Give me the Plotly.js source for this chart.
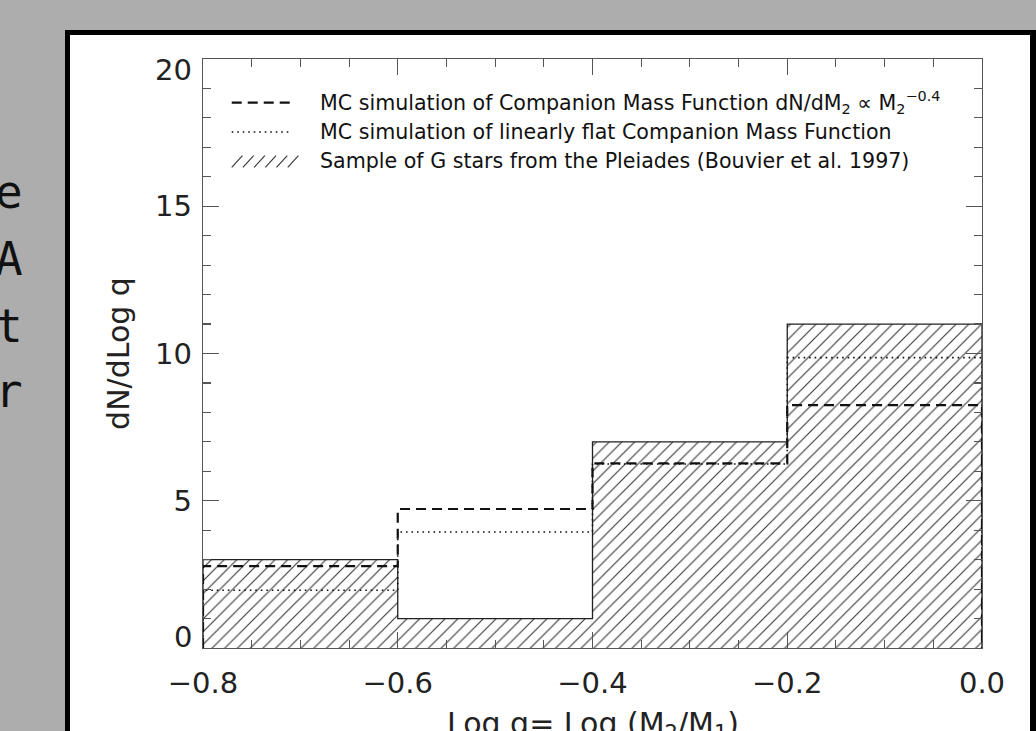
<!DOCTYPE html>
<html>
<head>
<meta charset="utf-8">
<script src="https://cdn.plot.ly/plotly-3.0.1.min.js"></script>
<style>
  html, body { margin: 0; padding: 0; background: #adadad; }
  #chart { width: 1036px; height: 731px; }
</style>
</head>
<body>
<div id="chart"></div>
<script>
// ---- data ----
const binEdges = [-0.8, -0.6, -0.4, -0.2, 0.0];
const binCenters = [-0.7, -0.5, -0.3, -0.1];
const pleiadesG = [3.0, 1.0, 7.0, 11.0];          // hatched histogram
const mcPowerLaw = [2.78, 4.72, 6.27, 8.25];       // dashed, dN/dM2 ∝ M2^-0.4
const mcFlat = [1.96, 3.94, 6.25, 9.86];           // dotted, flat CMF
const xTickVals = [-0.8, -0.6, -0.4, -0.2, 0.0];
const xTickText = ['−0.8', '−0.6', '−0.4', '−0.2', '0.0'];
const yTickVals = [0, 5, 10, 15, 20];
const yTickText = ['0', '5', '10', '15', '20'];
const xTitle = 'Log q= Log (M<sub>2</sub>/M<sub>1</sub>)';
const yTitle = 'dN/dLog q';
const legendTexts = [
  'MC simulation of Companion Mass Function dN/dM<sub>2</sub> ∝ M<sub>2</sub><sup>−0.4</sup>',
  'MC simulation of linearly flat Companion Mass Function',
  'Sample of G stars from the Pleiades (Bouvier et al. 1997)'
];
const sideLetters = ['e', 'A', 't', 'r'];

// ---- geometry helpers (layout only) ----
const W = 1036, H = 731;
const M = {l: 203, r: 54, t: 59, b: 83};
const PW = W - M.l - M.r, PH = H - M.t - M.b;
const px2x = p => (p - M.l) / PW;
const px2y = p => (H - M.b - p) / PH;

function stepXY(edges, vals) {
  const xs = [edges[0]], ys = [0];
  for (let i = 0; i < vals.length; i++) {
    xs.push(edges[i], edges[i + 1]);
    ys.push(vals[i], vals[i]);
  }
  xs.push(edges[edges.length - 1]);
  ys.push(0);
  return {xs, ys};
}

const sG = stepXY(binEdges, pleiadesG);
const sP = stepXY(binEdges, mcPowerLaw);
const sF = stepXY(binEdges, mcFlat);

const FONT = 'DejaVu Sans, Verdana, sans-serif';

const traces = [
  {
    type: 'bar', x: binCenters, y: pleiadesG, width: 0.2,
    marker: {
      color: 'white',
      line: {width: 0},
      pattern: {shape: '/', fgcolor: '#333', bgcolor: 'white', size: 9, solidity: 0.12}
    },
    hoverinfo: 'skip', showlegend: false
  },
  {
    type: 'scatter', mode: 'lines', x: sG.xs, y: sG.ys,
    line: {color: '#222', width: 1.3}, cliponaxis: false, showlegend: false, hoverinfo: 'skip'
  },
  {
    type: 'scatter', mode: 'lines', x: sP.xs, y: sP.ys,
    line: {color: '#111', width: 2.2, dash: '10px,6px'}, cliponaxis: false, showlegend: false, hoverinfo: 'skip'
  },
  {
    type: 'scatter', mode: 'lines', x: sF.xs, y: sF.ys,
    line: {color: '#111', width: 1.6, dash: '1.6px,3.9px'}, cliponaxis: false, showlegend: false, hoverinfo: 'skip'
  }
];

// ---- frame / panel shapes ----
const shapes = [
  {type: 'rect', xref: 'paper', yref: 'paper', layer: 'below',
   x0: px2x(65), x1: px2x(1036), y0: px2y(760), y1: px2y(30),
   fillcolor: '#000', line: {width: 0}},
  {type: 'rect', xref: 'paper', yref: 'paper', layer: 'below',
   x0: px2x(70), x1: px2x(1030), y0: px2y(760), y1: px2y(35),
   fillcolor: '#fff', line: {width: 0}}
];

// legend samples (data coords for y of legend rows)
const legY = [18.52, 17.52, 16.52];
const sx0 = -0.7705, sx1 = -0.7085;
shapes.push({type: 'line', xref: 'x', yref: 'y', x0: sx0, x1: sx1, y0: legY[0], y1: legY[0],
  line: {color: '#111', width: 2.2, dash: '10px,6px'}});
shapes.push({type: 'line', xref: 'x', yref: 'y', x0: sx0, x1: sx1, y0: legY[1], y1: legY[1],
  line: {color: '#111', width: 1.6, dash: '1.6px,3.9px'}});
for (let k = 0; k < 6; k++) {
  const xa = sx0 + k * 0.0115;
  shapes.push({type: 'line', xref: 'x', yref: 'y',
    x0: xa, x1: xa + 0.011, y0: legY[2] - 0.2, y1: legY[2] + 0.2,
    line: {color: '#333', width: 1.1}});
}

const annotations = [];
legendTexts.forEach((t, i) => {
  annotations.push({
    xref: 'x', yref: 'y', x: -0.682, y: legY[i], xanchor: 'left', yanchor: 'middle',
    text: t, showarrow: false, font: {family: FONT, size: 20.6, color: '#111'}
  });
});
const letterBaselines = [208, 275, 342, 407];
sideLetters.forEach((c, i) => {
  annotations.push({
    xref: 'paper', yref: 'paper', x: px2x(-7), y: px2y(letterBaselines[i] - 16),
    xanchor: 'left', yanchor: 'middle', text: c, showarrow: false,
    font: {family: 'DejaVu Sans Mono, monospace', size: 46, color: '#111'}
  });
});
// end tick labels of the y axis sit inside the axis span, as in the reference
const yEndLabels = [{t: yTickText[0], py: 637}, {t: yTickText[4], py: 70}];
yEndLabels.forEach(o => {
  annotations.push({
    xref: 'paper', yref: 'paper', x: px2x(194), y: px2y(o.py),
    xanchor: 'right', yanchor: 'middle', text: o.t, showarrow: false,
    font: {family: FONT, size: 29, color: '#222'}
  });
});
// x axis title, partly cut by the bottom edge as in the reference
annotations.push({
  xref: 'paper', yref: 'paper', x: 0.5, y: px2y(725),
  xanchor: 'center', yanchor: 'middle', text: xTitle, showarrow: false,
  font: {family: FONT, size: 30, color: '#222'}
});
const yShownText = yTickText.map((t, i) => (i === 0 || i === yTickText.length - 1) ? '' : t);

const axisCommon = {
  showline: true, linecolor: '#555', linewidth: 1.3, mirror: 'ticks',
  ticks: 'inside', ticklen: 16, tickwidth: 1.3, tickcolor: '#555',
  showgrid: false, zeroline: false, automargin: false,
  tickfont: {family: FONT, size: 29, color: '#222'}
};

const layout = {
  width: W, height: H, autosize: false,
  margin: M,
  paper_bgcolor: '#adadad', plot_bgcolor: 'rgba(0,0,0,0)',
  bargap: 0, showlegend: false,
  xaxis: Object.assign({}, axisCommon, {
    range: [-0.8, 0.0], tickmode: 'array', tickvals: xTickVals, ticktext: xTickText,
    minor: {dtick: 0.05, tick0: -0.8, ticks: 'inside', ticklen: 8, tickwidth: 1.1, tickcolor: '#555', showgrid: false},
    ticklabelstandoff: 9
  }),
  yaxis: Object.assign({}, axisCommon, {
    range: [0, 20], tickmode: 'array', tickvals: yTickVals, ticktext: yShownText,
    minor: {dtick: 1, tick0: 0, ticks: 'inside', ticklen: 8, tickwidth: 1.1, tickcolor: '#555', showgrid: false},
    ticklabelstandoff: 4,
    title: {text: yTitle, font: {family: FONT, size: 30, color: '#222'}, standoff: 16}
  }),
  shapes: shapes,
  annotations: annotations
};

Plotly.newPlot('chart', traces, layout, {displayModeBar: false, staticPlot: true});
</script>
</body>
</html>
